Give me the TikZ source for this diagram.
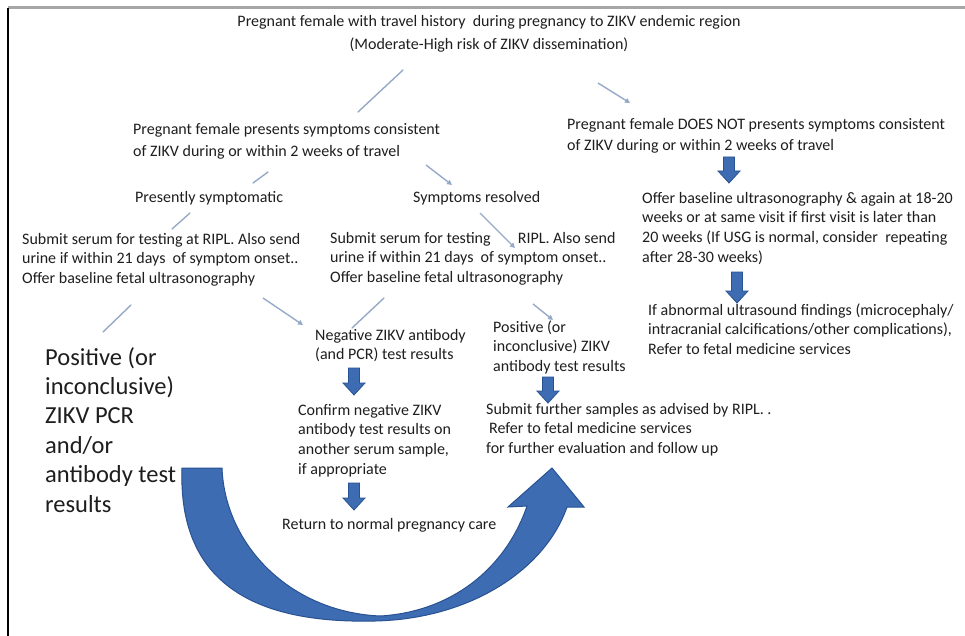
\documentclass[tikz,border=0pt]{standalone}
\usepackage{fontspec}
\setmainfont{Carlito}
\usetikzlibrary{arrows.meta}
\definecolor{txt}{RGB}{30,30,30}
\definecolor{conn}{RGB}{150,170,200}
\definecolor{bfill}{RGB}{62,108,178}
\definecolor{bdraw}{RGB}{40,82,145}
\tikzset{
  lbl/.style={inner sep=0pt, text=txt, font=\fontsize{16}{19.7}\selectfont, align=left, anchor=base west},
  biglbl/.style={inner sep=0pt, text=txt, font=\fontsize{24.5}{29.4}\selectfont, align=left, anchor=base west},
  thinline/.style={draw=conn, line width=1.4pt, line cap=round},
  thinarrow/.style={draw=conn, line width=1.4pt, -{Triangle[length=5pt,width=5pt]}},
  blockarrow/.style={fill=bfill, draw=bdraw, line width=0.8pt, line join=miter},
  pics/darrow/.style={code={
    \draw[blockarrow] (-5.5,0) -- (5.5,0) -- (5.5,#1-12) -- (11,#1-12) -- (0,#1) -- (-11,#1-12) -- (-5.5,#1-12) -- cycle;}}
}
\begin{document}
\begin{tikzpicture}[x=1pt,y=-1pt]
\useasboundingbox (0,0) rectangle (965,636);
\fill[white] (0,0) rectangle (965,636);
% frame
\draw[gray!70, line width=3pt] (8,8) -- (965,8);
\draw[black, line width=2pt] (8,8) -- (8,636);

% texts (anchor = baseline of the last line)
\node[lbl, align=center, anchor=base, font=\fontsize{16}{23}\selectfont] (title) at (489,50)
  {Pregnant female with travel history\ \ during pregnancy to ZIKV endemic region\\(Moderate-High risk of ZIKV dissemination)};
\node[lbl, font=\fontsize{16}{22}\selectfont] (sym) at (133,157)
  {Pregnant female presents symptoms consistent\\of ZIKV during or within 2 weeks of travel};
\node[lbl, font=\fontsize{16}{21}\selectfont] (nosym) at (567,151)
  {Pregnant female DOES NOT presents symptoms consistent\\of ZIKV during or within 2 weeks of travel};
\node[lbl] (pres) at (135,203) {Presently symptomatic};
\node[lbl] (resolved) at (413,203) {Symptoms resolved};
\node[lbl] (sub1) at (22,283.4)
  {Submit serum for testing at RIPL. Also send\\urine if within 21 days\ \ of symptom onset..\\Offer baseline fetal ultrasonography};
\node[lbl] (sub2) at (330,282.4)
  {Submit serum for testing\hspace{1.7em}RIPL. Also send\\urine if within 21 days\ \ of symptom onset..\\Offer baseline fetal ultrasonography};
\node[lbl] (offer) at (642,262.1)
  {Offer baseline ultrasonography \& again at 18-20\\weeks or at same visit if first visit is later than\\20 weeks (If USG is normal, consider\ \ repeating\\after 28-30 weeks)};
\node[lbl] (abn) at (648,354.4)
  {If abnormal ultrasound findings (microcephaly/\\intracranial calcifications/other complications),\\Refer to fetal medicine services};
\node[lbl] (neg) at (315,359.7) {Negative ZIKV antibody\\(and PCR) test results};
\node[lbl] (conf) at (298,474.1) {Confirm negative ZIKV\\antibody test results on\\another serum sample,\\if appropriate};
\node[lbl] (ret) at (282,529) {Return to normal pregnancy care};
\node[lbl] (pos) at (493,371.4) {Positive (or\\inconclusive) ZIKV\\antibody test results};
\node[lbl] (further) at (486,453.4) {Submit further samples as advised by RIPL. .\\\hspace{3pt}Refer to fetal medicine services\\for further evaluation and follow up};
\node[biglbl] (big) at (45,512) {Positive (or\\inconclusive)\\ZIKV PCR\\and/or\\antibody test\\results};

% thin connectors
\coordinate (l1a) at (403,70);  \coordinate (l1b) at (358,112);
\coordinate (a1a) at (598,83);  \coordinate (a1b) at (630,103);
\coordinate (l2a) at (268,172); \coordinate (l2b) at (253,183);
\coordinate (a2a) at (426,165); \coordinate (a2b) at (452,185);
\coordinate (l3a) at (190,213); \coordinate (l3b) at (172,229);
\coordinate (a3a) at (480,213); \coordinate (a3b) at (515,248);
\coordinate (l4a) at (131,305); \coordinate (l4b) at (103,332);
\coordinate (a4a) at (263,298); \coordinate (a4b) at (303,325);
\coordinate (l5a) at (384,298); \coordinate (l5b) at (352,328);
\coordinate (a5a) at (533,304); \coordinate (a5b) at (553,320);
\draw[thinline] (l1a) -- (l1b);
\draw[thinarrow] (a1a) -- (a1b);
\draw[thinline] (l2a) -- (l2b);
\draw[thinarrow] (a2a) -- (a2b);
\draw[thinline] (l3a) -- (l3b);
\draw[thinarrow] (a3a) -- (a3b);
\draw[thinline] (l4a) -- (l4b);
\draw[thinarrow] (a4a) -- (a4b);
\draw[thinline] (l5a) -- (l5b);
\draw[thinarrow] (a5a) -- (a5b);

% block arrows
\pic at (729,157) {darrow=26};
\pic at (737,272) {darrow=31};
\pic at (354,368) {darrow=27};
\pic at (354,483) {darrow=27};
\pic at (548,377) {darrow=26};

% big curved arrow
\draw[blockarrow, line width=1pt]
  (182,468) .. controls (178,580) and (250,624) .. (375,621)
  .. controls (470,619) and (545,570) .. (567,507)
  -- (584,507) -- (552,468) -- (508,507) -- (527,506)
  .. controls (505,570) and (450,612) .. (380,616)
  .. controls (290,612) and (225,545) .. (222,468) -- cycle;
\end{tikzpicture}
\end{document}
